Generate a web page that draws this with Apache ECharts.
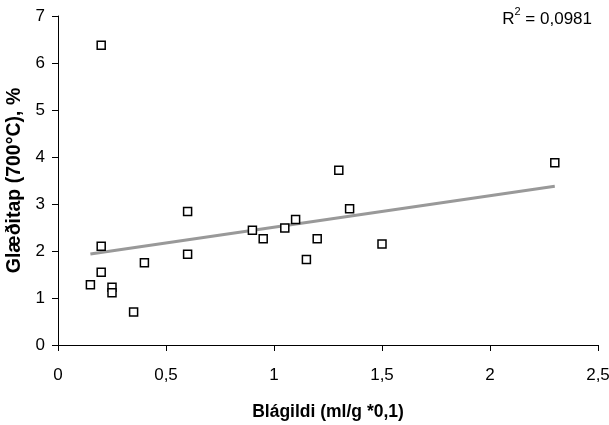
<!DOCTYPE html>
<html>
<head>
<meta charset="utf-8">
<script src="https://cdn.jsdelivr.net/npm/echarts@6/dist/echarts.min.js"></script>
<style>html,body{margin:0;padding:0;background:#fff}#c{width:609px;height:425px}</style>
</head>
<body>
<div id="c"></div>
<script>
// Data
var blagildi = [0.2, 0.15, 0.2, 0.2, 0.25, 0.25, 0.35, 0.4, 0.6, 0.6, 0.9, 0.95, 1.05, 1.1, 1.15, 1.2, 1.3, 1.35, 1.5, 2.3];
var gloditap = [6.38, 1.28, 2.1, 1.55, 1.23, 1.11, 0.7, 1.75, 2.84, 1.93, 2.44, 2.26, 2.49, 2.67, 1.82, 2.26, 3.72, 2.9, 2.15, 3.88];
var xTicks = [0, 0.5, 1, 1.5, 2, 2.5];
var yTicks = [0, 1, 2, 3, 4, 5, 6, 7];
var r2Text = '0,0981';
var xName = 'Blágildi (ml/g *0,1)';
var yName = 'Glæðitap (700°C), %';

// Linear regression trendline
var n = blagildi.length, sx = 0, sy = 0;
for (var i = 0; i < n; i++) { sx += blagildi[i]; sy += gloditap[i]; }
var mx = sx / n, my = sy / n, sxy = 0, sxx = 0;
for (var i = 0; i < n; i++) { sxy += (blagildi[i] - mx) * (gloditap[i] - my); sxx += (blagildi[i] - mx) * (blagildi[i] - mx); }
var slope = sxy / sxx, icpt = my - slope * mx;
var xmin = Math.min.apply(null, blagildi), xmax = Math.max.apply(null, blagildi);
var trend = [[xmin, icpt + slope * xmin], [xmax, icpt + slope * xmax]];

var pts = blagildi.map(function (x, i) { return [x, gloditap[i]]; });
var fmt = function (v) { return String(v).replace('.', ','); };
var FONT = '"Liberation Sans", Arial, sans-serif';

var chart = echarts.init(document.getElementById('c'), null, { renderer: 'canvas' });
chart.setOption({
  animation: false,
  backgroundColor: '#fff',
  grid: { left: 58, right: 11, top: 16, bottom: 80, containLabel: false, outerBoundsMode: 'none' },
  xAxis: {
    type: 'value', min: xTicks[0], max: xTicks[xTicks.length - 1], interval: 0.5,
    name: xName, nameLocation: 'middle', nameGap: 58,
    nameTextStyle: { fontFamily: FONT, fontSize: 17.5, fontWeight: 'bold', color: '#000' },
    axisLine: { show: true, onZero: false, lineStyle: { color: '#000', width: 1 } },
    axisTick: { show: true, length: 6, lineStyle: { color: '#000' } },
    axisLabel: { fontFamily: FONT, fontSize: 17, color: '#000', margin: 22, formatter: fmt },
    splitLine: { show: false }
  },
  yAxis: {
    type: 'value', min: yTicks[0], max: yTicks[yTicks.length - 1], interval: 1,
    name: yName, nameLocation: 'middle', nameGap: 30,
    nameTextStyle: { fontFamily: FONT, fontSize: 19.5, fontWeight: 'bold', color: '#000' },
    axisLine: { show: true, lineStyle: { color: '#000', width: 1 } },
    axisTick: { show: true, length: 6, lineStyle: { color: '#000' } },
    axisLabel: { fontFamily: FONT, fontSize: 17, color: '#000', margin: 13, formatter: fmt },
    splitLine: { show: false }
  },
  series: [
    {
      type: 'line', data: trend, showSymbol: false, symbol: 'none',
      lineStyle: { color: '#999999', width: 3 }, z: 2
    },
    {
      type: 'scatter', data: pts, symbol: 'rect', symbolSize: 8,
      itemStyle: { color: '#fff', borderColor: '#000', borderWidth: 1.5, opacity: 1 }, z: 3
    }
  ],
  graphic: [{
    type: 'text', right: 17, top: 6,
    style: {
      text: '{a|R}{s|2}{a| = ' + r2Text + '}',
      rich: {
        a: { fontFamily: FONT, fontSize: 17, fill: '#000', verticalAlign: 'bottom', lineHeight: 22 },
        s: { fontFamily: FONT, fontSize: 11, fill: '#000', verticalAlign: 'top', lineHeight: 22, padding: [0, 0, 8, 0] }
      }
    }
  }]
});
</script>
</body>
</html>
